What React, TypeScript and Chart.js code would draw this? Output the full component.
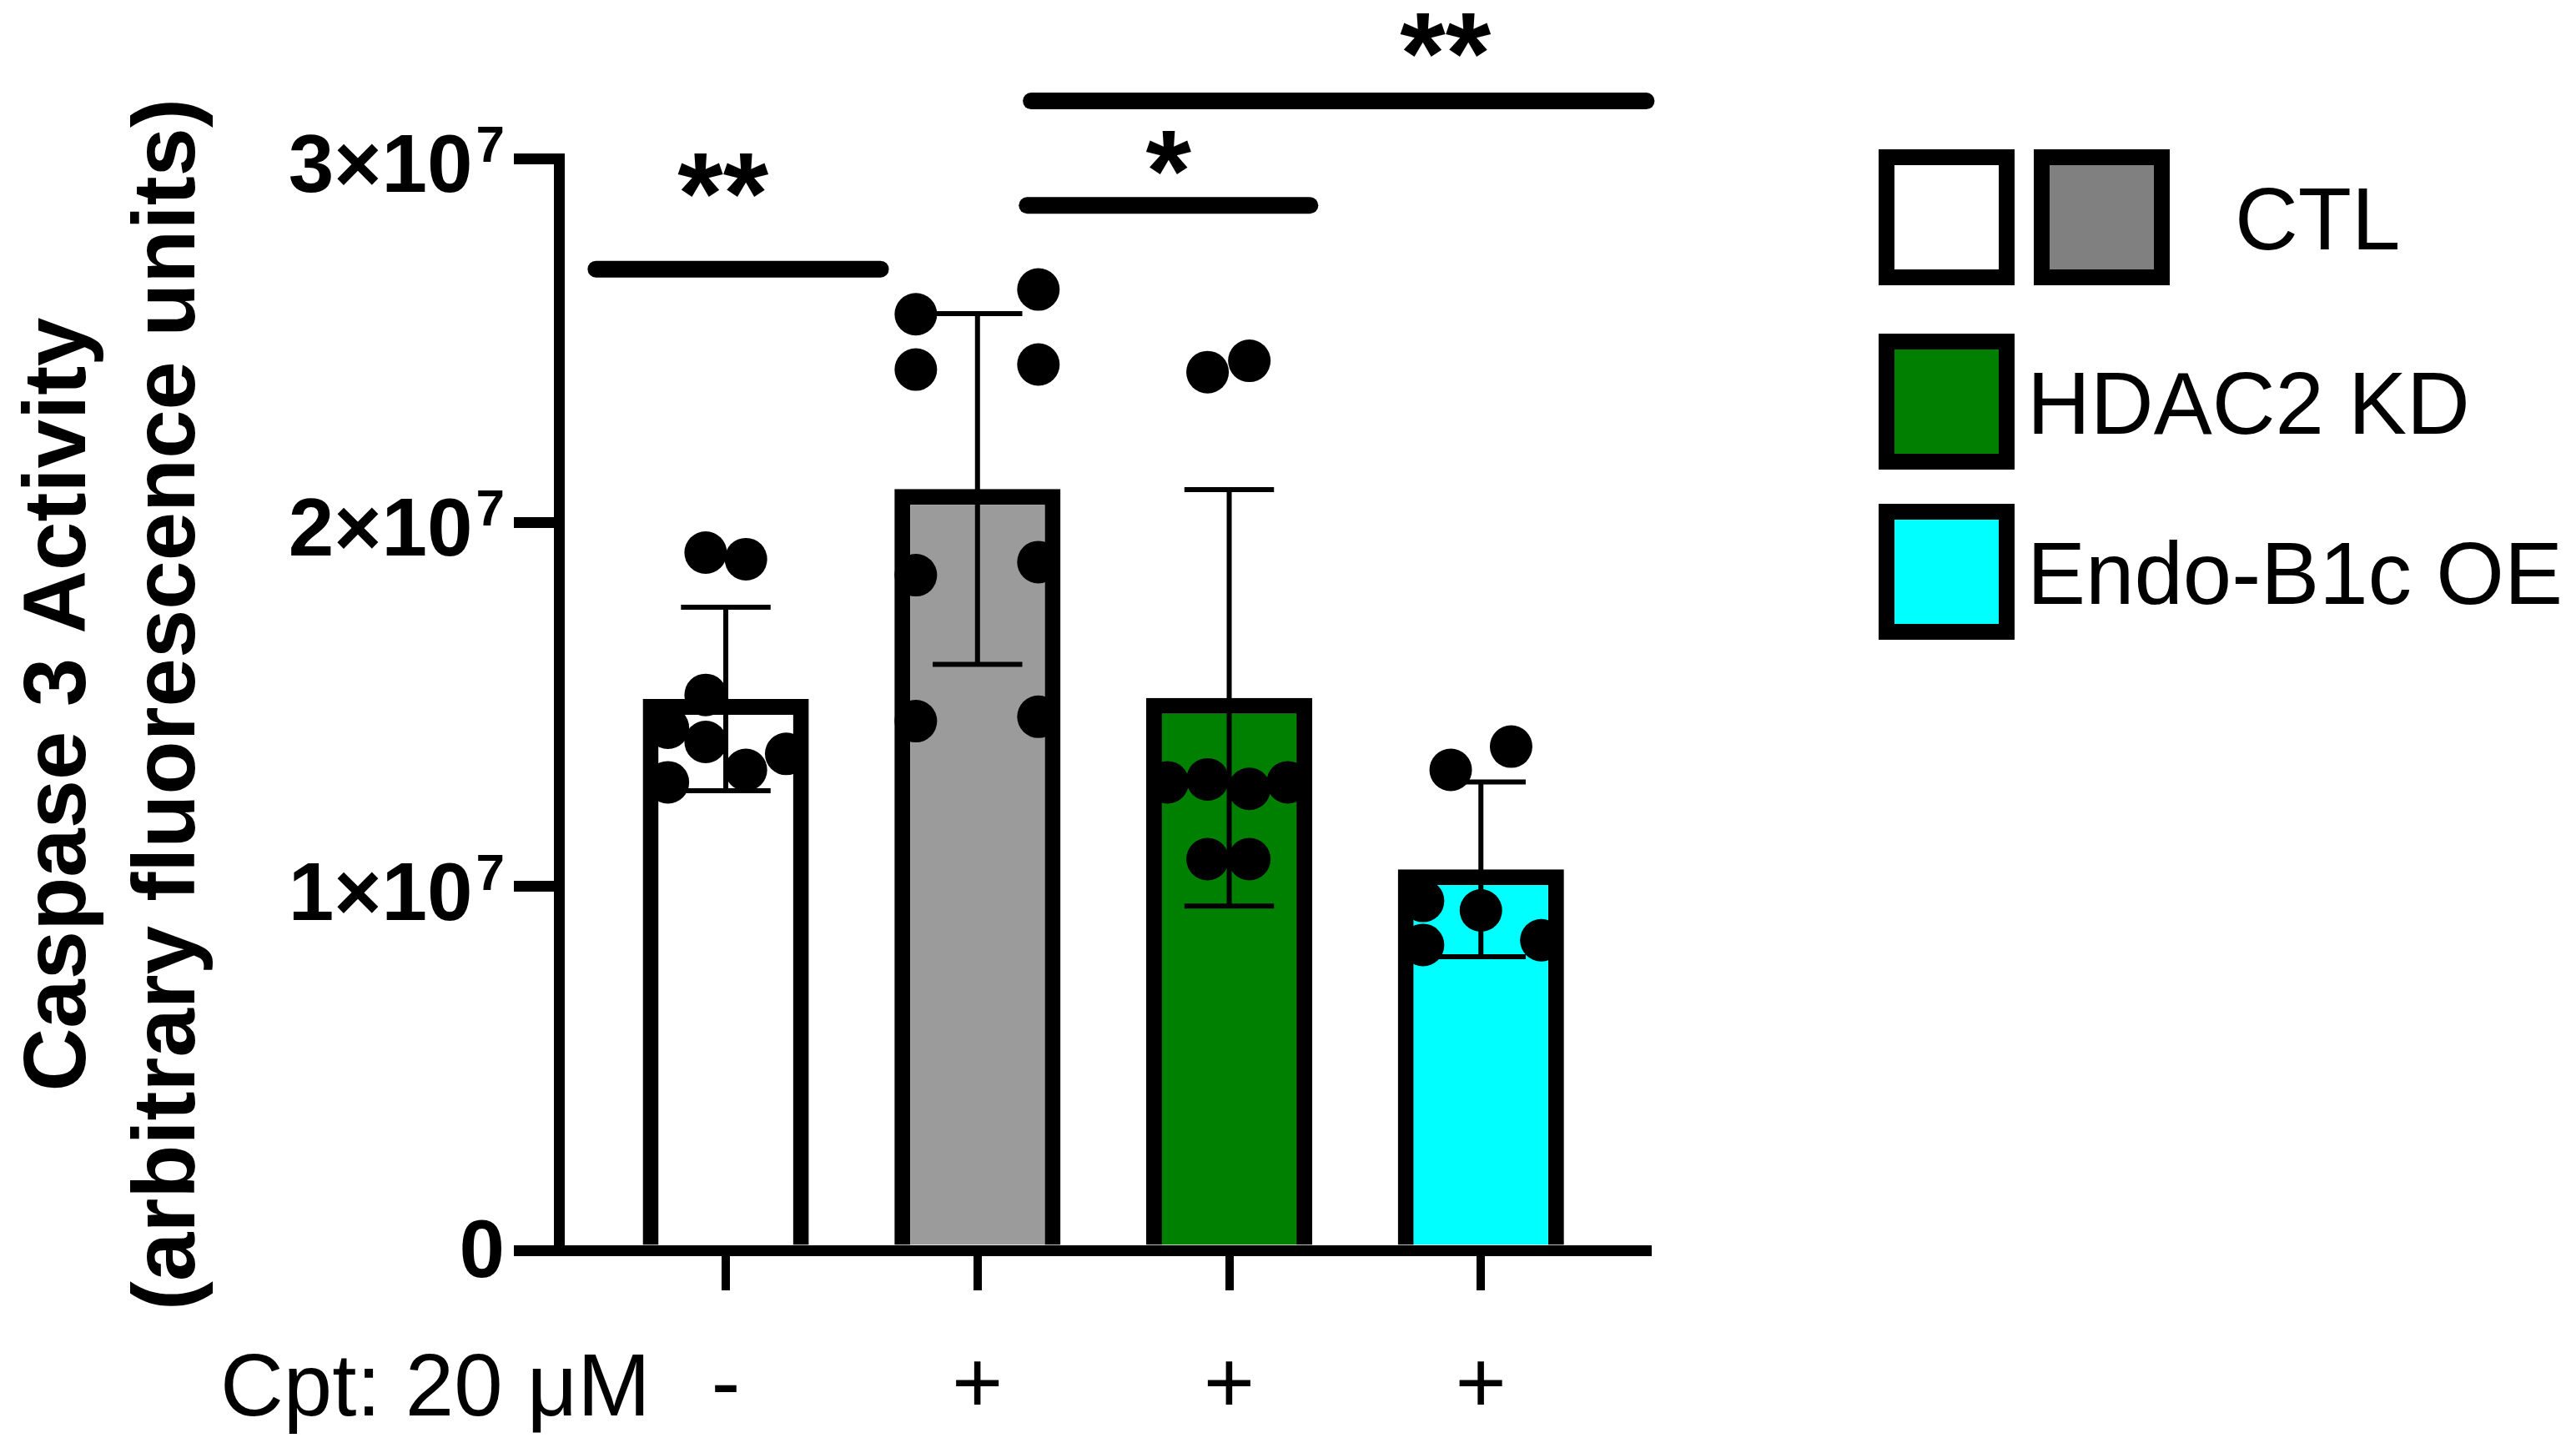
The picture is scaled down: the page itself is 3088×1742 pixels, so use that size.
import React, { useEffect, useRef } from 'react';
import { Chart, registerables } from 'chart.js';

Chart.register(...registerables);

const FONT = '"Liberation Sans", Arial, Helvetica, sans-serif';

// ---------- data ----------
const categories = ['-', '+', '+', '+'];
const groupNames = ['CTL', 'CTL + Cpt', 'HDAC2 KD + Cpt', 'Endo-B1c OE + Cpt'];
const barMeans = [1.515e7, 2.092e7, 1.518e7, 1.047e7];
const barSD = [0.252e7, 0.482e7, 0.572e7, 0.24e7];
const barFills = ['#ffffff', '#9b9b9b', '#008000', '#00ffff'];

const ctlValues = [1.917e7, 1.899e7, 1.526e7, 1.436e7, 1.364e7, 1.397e7, 1.32e7, 1.286e7];
const ctlOffsets = [-0.08, 0.08, -0.08, -0.23, 0.24, -0.08, 0.08, -0.23];
const ctlCptValues = [2.572e7, 2.64e7, 2.42e7, 2.434e7, 1.855e7, 1.891e7, 1.454e7, 1.466e7];
const ctlCptOffsets = [-0.245, 0.242, -0.245, 0.242, -0.245, 0.242, -0.245, 0.242];
const hdacValues = [2.413e7, 2.444e7, 1.286e7, 1.294e7, 1.268e7, 1.286e7, 1.075e7, 1.075e7];
const hdacOffsets = [-0.086, 0.08, -0.245, -0.086, 0.08, 0.233, -0.086, 0.08];
const endoValues = [1.32e7, 1.384e7, 0.96e7, 0.934e7, 0.839e7, 0.852e7];
const endoOffsets = [-0.12, 0.12, -0.23, 0, -0.23, 0.24];

const groupValues = [ctlValues, ctlCptValues, hdacValues, endoValues];
const groupOffsets = [ctlOffsets, ctlCptOffsets, hdacOffsets, endoOffsets];

const yTickValues = [0, 1e7, 2e7, 3e7];
const yTickMantissas = ['0', '1×10', '2×10', '3×10'];
const yTickExponents = ['', '7', '7', '7'];
const yTitleLines = ['Caspase 3 Activity', '(arbitrary fluorescence units)'];
const xRowTitle = 'Cpt: 20 μM';

const sigFrom = [-0.549, 1.164, 1.18];
const sigTo = [0.648, 2.354, 3.69];
const sigLineValue = [2.696e7, 2.871e7, 3.158e7];
const sigText = ['**', '*', '**'];
const sigTextX = [-0.01, 1.76, 2.86];
const sigTextValue = [2.954e7, 3.017e7, 3.34e7];

const legendLabels = ['CTL', 'HDAC2 KD', 'Endo-B1c OE'];
const legendFills = [['#ffffff', '#808080'], ['#007f00'], ['#00ffff']];

// ---------- drawing helpers ----------
function drawCentered(ctx: CanvasRenderingContext2D, text: string, cx: number, cy: number) {
  const m = ctx.measureText(text);
  const w = m.actualBoundingBoxRight + m.actualBoundingBoxLeft;
  const h = m.actualBoundingBoxAscent + m.actualBoundingBoxDescent;
  ctx.textAlign = 'left';
  ctx.textBaseline = 'alphabetic';
  ctx.fillText(text, cx - w / 2 + m.actualBoundingBoxLeft, cy + h / 2 - m.actualBoundingBoxDescent);
}

const decorPlugin = {
  id: 'decor',
  afterDatasetDraw(chart: any, args: any) {
    if (args.index !== 1) return;
    const { ctx } = chart;
    const xs = chart.scales.x;
    const ys = chart.scales.y;
    const unit = xs.getPixelForValue(1) - xs.getPixelForValue(0);
    ctx.save();
    ctx.strokeStyle = '#000';
    ctx.lineWidth = 6;
    barMeans.forEach((m, i) => {
      const x = xs.getPixelForValue(i);
      const yt = ys.getPixelForValue(m + barSD[i]);
      const yb = ys.getPixelForValue(m - barSD[i]);
      const hw = 0.178 * unit;
      ctx.beginPath();
      ctx.moveTo(x, yt);
      ctx.lineTo(x, yb);
      ctx.moveTo(x - hw, yt);
      ctx.lineTo(x + hw, yt);
      ctx.moveTo(x - hw, yb);
      ctx.lineTo(x + hw, yb);
      ctx.stroke();
    });
    ctx.restore();
  },
  afterDraw(chart: any) {
    const { ctx, chartArea } = chart;
    const xs = chart.scales.x;
    const ys = chart.scales.y;
    ctx.save();
    ctx.fillStyle = '#000';

    // y tick labels with superscript exponent
    const labelRight = chartArea.left - 65;
    yTickValues.forEach((v, i) => {
      const y = ys.getPixelForValue(v);
      ctx.textBaseline = 'alphabetic';
      ctx.textAlign = 'right';
      if (yTickExponents[i]) {
        ctx.font = `bold 62px ${FONT}`;
        const supW = ctx.measureText(yTickExponents[i]).width;
        ctx.fillText(yTickExponents[i], labelRight, y + 4);
        ctx.font = `bold 98px ${FONT}`;
        ctx.fillText(yTickMantissas[i], labelRight - supW - 4, y + 40);
      } else {
        ctx.font = `bold 98px ${FONT}`;
        ctx.fillText(yTickMantissas[i], labelRight, y + 32);
      }
    });

    // y axis title (two lines, rotated)
    const cy = (chartArea.top + chartArea.bottom) / 2;
    ctx.font = `bold 105px ${FONT}`;
    const titleBaselines = [102, 233];
    yTitleLines.forEach((line, i) => {
      ctx.save();
      ctx.translate(titleBaselines[i], cy);
      ctx.rotate(-Math.PI / 2);
      ctx.textAlign = 'center';
      ctx.textBaseline = 'alphabetic';
      ctx.fillText(line, 0, 0);
      ctx.restore();
    });

    // row title for treatment labels
    ctx.font = `105px ${FONT}`;
    ctx.textAlign = 'left';
    ctx.textBaseline = 'alphabetic';
    ctx.fillText(xRowTitle, 264, 1697);

    // significance brackets
    ctx.strokeStyle = '#000';
    ctx.lineWidth = 20;
    ctx.lineCap = 'round';
    sigText.forEach((t, i) => {
      const y = ys.getPixelForValue(sigLineValue[i]);
      ctx.beginPath();
      ctx.moveTo(xs.getPixelForValue(sigFrom[i]) + 10, y);
      ctx.lineTo(xs.getPixelForValue(sigTo[i]) - 10, y);
      ctx.stroke();
      ctx.font = `bold 140px ${FONT}`;
      drawCentered(ctx, t, xs.getPixelForValue(sigTextX[i]), ys.getPixelForValue(sigTextValue[i]));
    });

    // legend
    const boxSize = 163;
    const border = 19;
    const boxCols = [2252, 2438];
    const rowsY = [179, 400, 604];
    legendLabels.forEach((label, r) => {
      const fills = legendFills[r];
      fills.forEach((f, c) => {
        const x = boxCols[c];
        const y = rowsY[r];
        ctx.fillStyle = '#000';
        ctx.fillRect(x, y, boxSize, boxSize);
        ctx.fillStyle = f;
        ctx.fillRect(x + border, y + border, boxSize - 2 * border, boxSize - 2 * border);
      });
      ctx.fillStyle = '#000';
      ctx.font = `105px ${FONT}`;
      ctx.textAlign = 'left';
      ctx.textBaseline = 'alphabetic';
      const tx = fills.length > 1 ? 2679 : 2430;
      ctx.fillText(label, tx, rowsY[r] + boxSize / 2 + 38);
    });

    ctx.restore();
  },
};

export default function App() {
  const canvasRef = useRef<HTMLCanvasElement | null>(null);

  useEffect(() => {
    document.body.style.margin = '0';
    const canvas = canvasRef.current;
    if (!canvas) return;

    const dotPoints: { x: number; y: number }[] = [];
    groupValues.forEach((vals, g) => {
      vals.forEach((v, k) => dotPoints.push({ x: g + groupOffsets[g][k], y: v }));
    });

    const chart = new Chart(canvas, {
      type: 'bar',
      data: {
        datasets: [
          {
            type: 'scatter',
            label: 'Replicates',
            data: dotPoints,
            backgroundColor: '#000',
            borderColor: '#000',
            borderWidth: 0,
            pointRadius: 25.5,
            pointHoverRadius: 25.5,
            order: 0,
          } as any,
          {
            type: 'bar',
            label: 'Mean',
            data: barMeans.map((v, i) => ({ x: i, y: v, g: groupNames[i] })),
            backgroundColor: barFills,
            borderColor: '#000',
            borderWidth: 19,
            borderSkipped: 'start',
            barPercentage: 0.66,
            categoryPercentage: 1,
            order: 1,
          } as any,
        ],
      },
      options: {
        responsive: false,
        animation: false,
        devicePixelRatio: 1,
        events: [],
        layout: { padding: { top: 190, right: 1113, left: 0, bottom: 0 } },
        plugins: {
          legend: { display: false },
          tooltip: { enabled: false },
          title: { display: false },
        },
        scales: {
          x: {
            type: 'linear',
            min: -0.663,
            max: 3.662,
            offset: false,
            afterBuildTicks: (s: any) => {
              s.ticks = categories.map((_, i) => ({ value: i }));
            },
            afterFit: (s: any) => {
              s.height = 243;
            },
            ticks: {
              autoSkip: false,
              maxRotation: 0,
              padding: 54,
              color: '#000',
              font: { family: FONT, size: 105 },
              callback: (v: any) => categories[Math.round(Number(v))] ?? '',
            },
            grid: {
              offset: false,
              drawOnChartArea: false,
              drawTicks: true,
              tickLength: 48,
              tickWidth: 10,
              lineWidth: 10,
              color: '#000',
            },
            border: { display: true, width: 13, color: '#000' },
          },
          y: {
            type: 'linear',
            min: 0,
            max: 3e7,
            afterBuildTicks: (s: any) => {
              s.ticks = yTickValues.map((v) => ({ value: v }));
            },
            afterFit: (s: any) => {
              s.width = 670;
            },
            ticks: { display: false },
            grid: {
              drawOnChartArea: false,
              drawTicks: true,
              tickLength: 54,
              tickWidth: 13,
              lineWidth: 13,
              color: '#000',
            },
            border: { display: true, width: 13, color: '#000' },
          },
        },
      },
      plugins: [decorPlugin],
    } as any);

    return () => {
      chart.destroy();
    };
  }, []);

  return (
    <div style={{ width: 3088, height: 1742, background: '#fff' }}>
      <canvas ref={canvasRef} width={3088} height={1742} style={{ display: 'block', width: 3088, height: 1742 }} />
    </div>
  );
}
